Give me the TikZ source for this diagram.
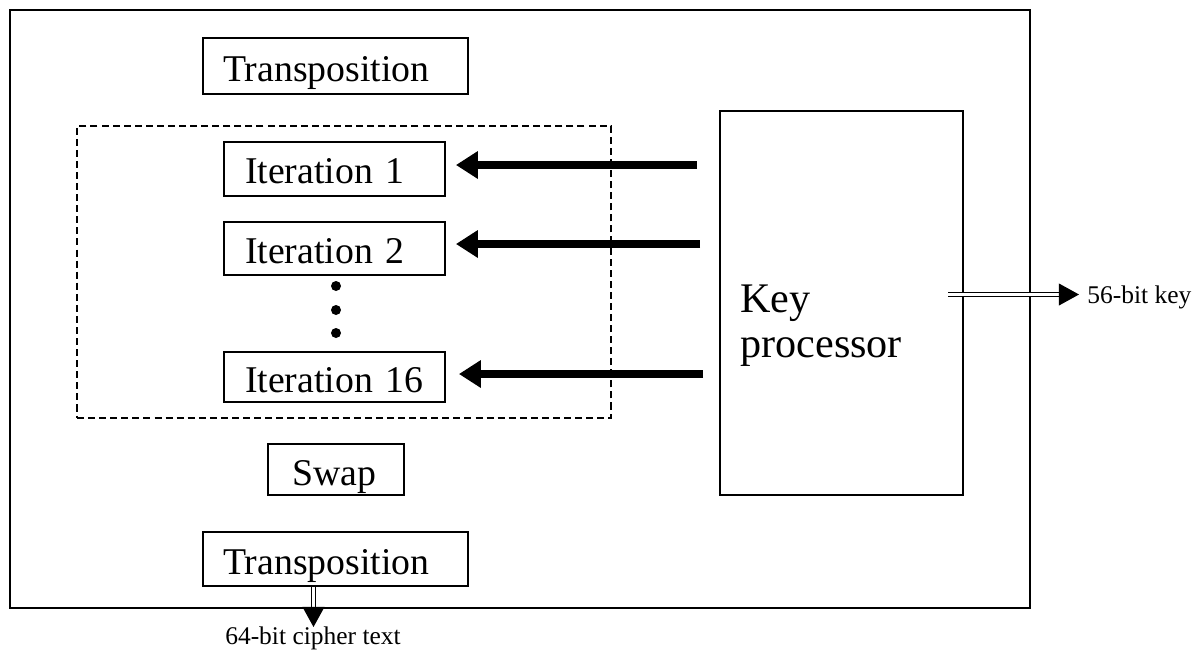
\documentclass[tikz,border=0pt]{standalone}
\usepackage{fontspec}
\setmainfont{Liberation Serif}
\usetikzlibrary{arrows.meta}
\begin{document}
\begin{tikzpicture}[x=0.02cm,y=-0.02cm,
  box/.style={draw,line width=1.1pt,rectangle,inner ysep=0pt,align=left,font=\fontsize{21.5}{24}\selectfont},
  frame/.style={draw,line width=0.9pt,rectangle,inner sep=0pt},
  dashbox/.style={draw,line width=0.7pt,dash pattern=on 4pt off 2.3pt,rectangle,inner sep=0pt},
  keyarrow/.style={line width=4.5pt,-{Triangle[length=12.5pt,width=15pt]}},
  dblarrow/.style={double,line width=0.6pt,double distance=2pt,-{Triangle[length=11.5pt,width=12.5pt]}},
  small/.style={font=\fontsize{14.5}{16}\selectfont,inner sep=0pt}]
\useasboundingbox (0,0) rectangle (1198,650);
\node[frame,minimum width=20.4cm,minimum height=11.96cm] (outer) at (520,309) {};
\node[box,inner xsep=0.4cm,text width=4.5cm,text height=0.86cm,text depth=0.26cm] (tr1) at (335.5,66) {Transposition};
\node[dashbox,minimum width=10.68cm,minimum height=5.84cm] (iters) at (344,272) {};
\node[box,inner xsep=0.42cm,text width=3.58cm,text height=0.82cm,text depth=0.26cm] (it1) at (334.5,169) {Iteration 1};
\node[box,inner xsep=0.42cm,text width=3.58cm,text height=0.82cm,text depth=0.24cm] (it2) at (334.5,248.5) {Iteration 2};
\node[box,inner xsep=0.42cm,text width=3.58cm,text height=0.80cm,text depth=0.20cm] (it16) at (334.5,377) {Iteration 16};
\node[box,inner xsep=0.48cm,text width=1.76cm,text height=0.82cm,text depth=0.20cm] (swap) at (336,469.5) {Swap};
\node[box,inner xsep=0.4cm,text width=4.5cm,text height=0.84cm,text depth=0.24cm] (tr2) at (335.5,559) {Transposition};
\node[draw,line width=1.1pt,rectangle,inner sep=0pt,minimum width=4.86cm,minimum height=7.68cm] (kp) at (841.5,303) {};
\node[anchor=base west,align=left,inner sep=0pt,font=\fontsize{24}{25.5}\selectfont] (kpl) at (740,357) {Key\\processor};
\fill (336,286) circle (0.1cm) (336,310) circle (0.1cm) (336,333) circle (0.1cm);
\coordinate (a1) at (697,165);
\coordinate (a2) at (700,244);
\coordinate (a3) at (703,374);
\draw[keyarrow,shorten >=0.2cm] (a1) -- (it1.east |- a1);
\draw[keyarrow,shorten >=0.2cm] (a2) -- (it2.east |- a2);
\draw[keyarrow,shorten >=0.26cm] (a3) -- (it16.east |- a3);
\coordinate (ks) at (948,294.5);
\node[small,anchor=west] (key) at (1087,297) {56-bit key};
\draw[dblarrow,shorten >=0.16cm] (ks) -- (key.west |- ks);
\coordinate (cs) at (313.5,587);
\node[small] (ct) at (313,638) {64-bit cipher text};
\draw[dblarrow] (cs) -- (313.5,627);
\end{tikzpicture}
\end{document}
